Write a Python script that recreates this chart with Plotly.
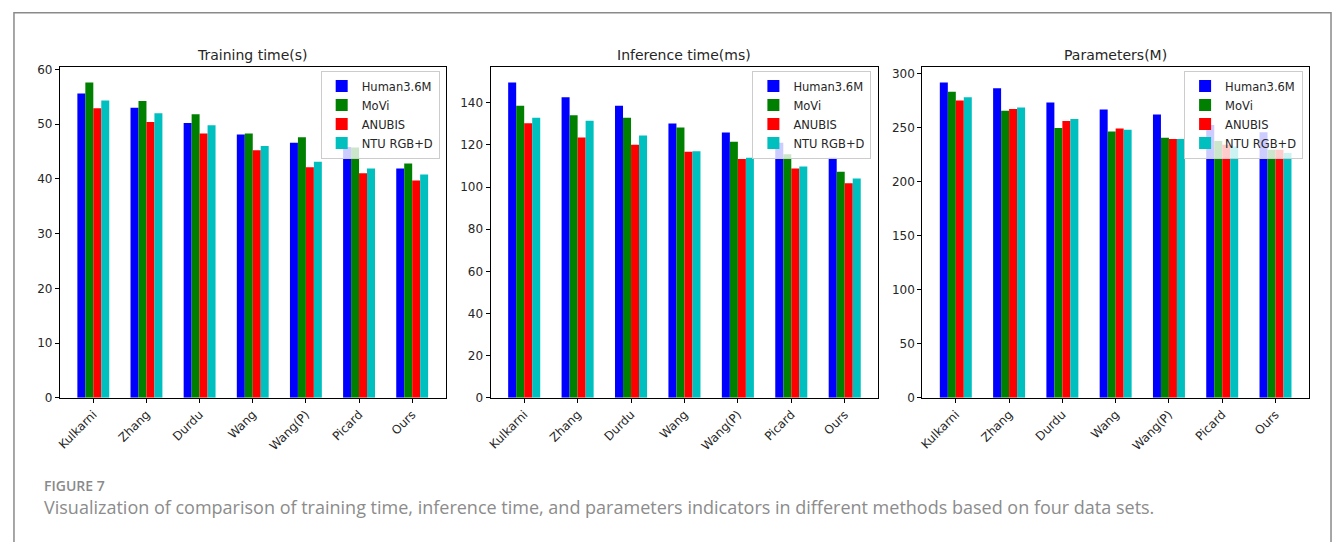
import plotly.graph_objects as go

# Methods compared on the x axis
methods = ["Kulkarni", "Zhang", "Durdu", "Wang", "Wang(P)", "Picard", "Ours"]

# Datasets (one bar per dataset in each group)
datasets = ["Human3.6M", "MoVi", "ANUBIS", "NTU RGB+D"]
colors = ["#0000ff", "#008000", "#ff0000", "#00bfbf"]

# Training time (s)
train_h36m = [55.6, 53.0, 50.2, 48.1, 46.6, 45.8, 41.9]
train_movi = [57.6, 54.2, 51.8, 48.3, 47.6, 45.7, 42.8]
train_anubis = [52.9, 50.4, 48.3, 45.2, 42.1, 41.0, 39.7]
train_ntu = [54.3, 52.0, 49.8, 46.0, 43.1, 41.9, 40.8]

# Inference time (ms)
infer_h36m = [149.6, 142.6, 138.6, 130.1, 125.9, 121.0, 113.9]
infer_movi = [138.6, 134.1, 132.9, 128.2, 121.5, 115.5, 107.2]
infer_anubis = [130.2, 123.5, 120.1, 116.7, 113.3, 108.8, 101.8]
infer_ntu = [132.9, 131.5, 124.5, 117.0, 113.9, 109.7, 104.0]

# Parameters (M)
param_h36m = [292.1, 286.7, 273.6, 267.0, 262.4, 252.7, 246.0]
param_movi = [283.6, 265.8, 250.0, 246.7, 240.9, 237.9, 229.7]
param_anubis = [275.5, 267.6, 256.4, 249.4, 239.7, 234.5, 229.7]
param_ntu = [278.5, 268.8, 258.2, 248.2, 239.7, 232.7, 226.7]

panel_titles = ["Training time(s)", "Inference time(ms)", "Parameters(M)"]
panel_data = [
    [train_h36m, train_movi, train_anubis, train_ntu],
    [infer_h36m, infer_movi, infer_anubis, infer_ntu],
    [param_h36m, param_movi, param_anubis, param_ntu],
]
panel_dticks = [10, 20, 50]

W, H = 1335, 542
# Plot-area boxes in pixels: (left, right)
boxes = [(56, 443), (488, 877), (921, 1309)]
top_px, bottom_px = 64, 402
legend_right_px = [437, 870, 1303]
legend_top_px = 68

FONT = "DejaVu Sans, sans-serif"
INK = "#262626"

fig = go.Figure()

for p, series in enumerate(panel_data):
    ax = "" if p == 0 else str(p + 1)
    for j, vals in enumerate(series):
        fig.add_trace(go.Bar(
            x=methods, y=vals, name=datasets[j],
            marker=dict(color=colors[j], line=dict(width=0)),
            xaxis="x" + ax, yaxis="y" + ax,
            legend="legend" + ax,
            offsetgroup=str(j),
        ))

layout = dict(
    width=W, height=H,
    margin=dict(l=0, r=0, t=0, b=0),
    paper_bgcolor="white", plot_bgcolor="white",
    barmode="group", bargap=0.4, bargroupgap=0,
    font=dict(family=FONT, color=INK, size=12),
    annotations=[], shapes=[],
)

ydom = [1 - bottom_px / H, 1 - top_px / H]
for p in range(3):
    ax = "" if p == 0 else str(p + 1)
    l, r = boxes[p]
    ymax = max(max(s) for s in panel_data[p]) * 1.05
    layout["xaxis" + ax] = dict(
        domain=[l / W, r / W], anchor="y" + ax,
        type="category", range=[-0.63, 6.63],
        showline=True, linecolor="black", linewidth=1, mirror=True,
        ticks="outside", ticklen=4, tickcolor="black", tickwidth=1,
        tickangle=-45, tickfont=dict(family=FONT, size=12, color=INK),
        showgrid=False, zeroline=False,
    )
    layout["yaxis" + ax] = dict(
        domain=ydom, anchor="x" + ax,
        range=[0, ymax], dtick=panel_dticks[p], tick0=0,
        showline=True, linecolor="black", linewidth=1, mirror=True,
        ticks="outside", ticklen=4, tickcolor="black", tickwidth=1,
        tickfont=dict(family=FONT, size=12, color=INK),
        showgrid=False, zeroline=False,
    )
    layout["legend" + ax] = dict(
        x=legend_right_px[p] / W, xanchor="right",
        y=1 - legend_top_px / H, yanchor="top",
        bgcolor="rgba(255,255,255,0.8)",
        bordercolor="#cccccc", borderwidth=1,
        font=dict(family=FONT, size=11.5, color=INK),
        tracegroupgap=0,
    )
    layout["annotations"].append(dict(
        text=panel_titles[p], xref="paper", yref="paper",
        x=(l + r) / 2 / W, y=1 - 52 / H, xanchor="center", yanchor="middle",
        showarrow=False, font=dict(family=FONT, size=14, color=INK),
    ))

# Caption
layout["annotations"].append(dict(
    text="FIGURE 7", xref="paper", yref="paper",
    x=38 / W, y=1 - 491 / H, xanchor="left", yanchor="middle",
    showarrow=False,
    font=dict(family="Open Sans, sans-serif", size=14, color="#8a8a8a", weight=600),
))
layout["annotations"].append(dict(
    text=("Visualization of comparison of training time, inference time, and "
          "parameters indicators in different methods based on four data sets."),
    xref="paper", yref="paper",
    x=38 / W, y=1 - 513 / H, xanchor="left", yanchor="middle",
    showarrow=False,
    font=dict(family="Open Sans, sans-serif", size=18, color="#8c8c8c"),
))

# Outer figure frame (open at the bottom edge of the page)
layout["shapes"].append(dict(
    type="path", xref="paper", yref="paper",
    path=f"M {10 / W},-0.05 L {10 / W},{1 - 9 / H} L {1331 / W},{1 - 9 / H} L {1331 / W},-0.05",
    line=dict(color="#8a8a8a", width=1.5),
))

fig.update_layout(**layout)
fig.write_html("out.html")
